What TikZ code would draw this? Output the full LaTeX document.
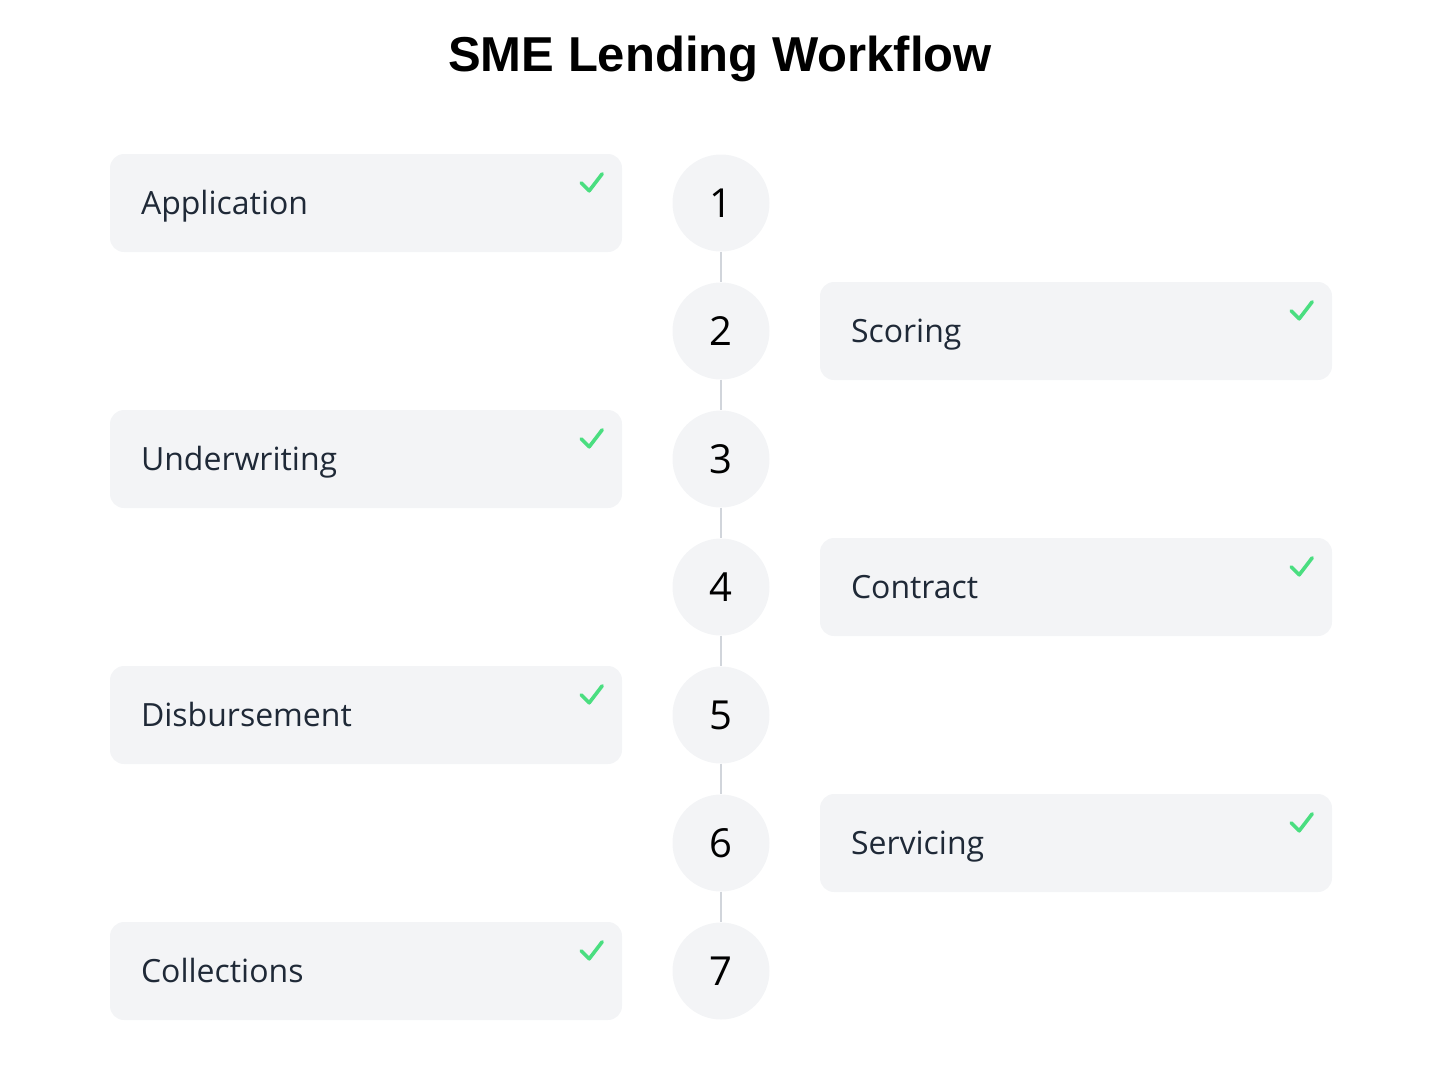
\documentclass[tikz,border=0pt]{standalone}
\usepackage{fontspec}
\setmainfont{Open Sans}
\newfontfamily\titlefont{Liberation Sans}
\definecolor{boxfill}{HTML}{F3F4F6}
\definecolor{linegray}{HTML}{D1D5DB}
\definecolor{checkgreen}{HTML}{4ADE80}
\definecolor{textdark}{HTML}{1F2937}
\begin{document}
\begin{tikzpicture}[x=1pt,y=-1pt,
  card/.style={fill=boxfill, rounded corners=14pt, minimum width=512pt, minimum height=98pt, inner sep=0pt},
  lbl/.style={anchor=base west, font=\fontsize{32}{38}\selectfont, text=textdark, inner sep=0pt},
  stepcircle/.style={circle, fill=boxfill, minimum size=97pt, inner sep=0pt, font=\fontsize{40}{46}\selectfont, text=black},
  link/.style={draw=linegray, line width=2pt},
  tick/.style={draw=checkgreen, line width=3.6pt, line cap=round, line join=round}]
\useasboundingbox (0,0) rectangle (1440,1072);
\node[font=\titlefont\bfseries\fontsize{49}{58}\selectfont] (title) at (720,59) {SME Lending Workflow};
\foreach \i/\name/\side in {1/Application/L,2/Scoring/R,3/Underwriting/L,4/Contract/R,5/Disbursement/L,6/Servicing/R,7/Collections/L}{
  \pgfmathsetmacro{\yy}{203+128*(\i-1)}
  \if L\side
    \def\bx{366}
  \else
    \def\bx{1076}
  \fi
  \node[card] (card\i) at (\bx,\yy) {};
  \node[lbl] (lbl\i) at ([xshift=31pt,yshift=-11.5pt]card\i.west) {\name};
  \coordinate (ck\i) at ([xshift=-41pt,yshift=-29pt]card\i.north east);
  \draw[tick] (ck\i) -- ++(8,8) -- ++(13,-17);
  \node[stepcircle] (c\i) at (721,\yy) {\i};
}
\foreach \i [count=\j from 2] in {1,...,6}{
  \draw[link] (c\i.south) -- (c\j.north);
}
\end{tikzpicture}
\end{document}
